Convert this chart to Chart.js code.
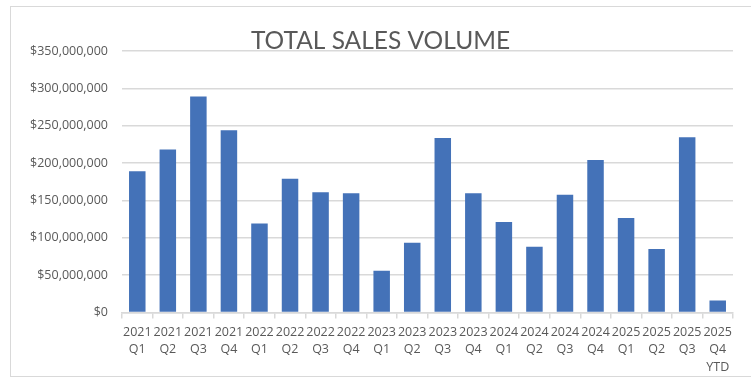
<!DOCTYPE html>
<html>
<head>
<meta charset="utf-8">
<script src="https://cdn.jsdelivr.net/npm/chart.js@4"></script>
<style>
  html, body { margin: 0; padding: 0; background: #fff; overflow: hidden; }
  #wrap { position: relative; width: 751px; height: 383px; }
  #frame { position: absolute; left: 10px; top: 6px; width: 800px; height: 371px; border: 1.5px solid #d9d9d9; box-sizing: border-box; }
  canvas { position: absolute; left: 0; top: 0; }
</style>
</head>
<body>
<div id="wrap">
  <div id="frame"></div>
  <canvas id="c" width="751" height="383"></canvas>
</div>
<script>
const years = ['2021','2021','2021','2021','2022','2022','2022','2022','2023','2023','2023','2023','2024','2024','2024','2024','2025','2025','2025','2025'];
const quarters = ['Q1','Q2','Q3','Q4','Q1','Q2','Q3','Q4','Q1','Q2','Q3','Q4','Q1','Q2','Q3','Q4','Q1','Q2','Q3','Q4'];
const suffixes = ['','','','','','','','','','','','','','','','','','','','YTD'];
const salesVolume = [189000000, 218000000, 289000000, 244000000, 119000000, 179000000, 161000000, 159500000, 56000000, 93500000, 233500000, 159500000, 121000000, 88000000, 157500000, 204000000, 126500000, 85000000, 234500000, 16000000];
const titleText = 'TOTAL SALES VOLUME';

const labels = years.map((y, i) => suffixes[i] ? [y, quarters[i], suffixes[i]] : [y, quarters[i]]);

new Chart(document.getElementById('c'), {
  type: 'bar',
  data: {
    labels: labels,
    datasets: [{
      data: salesVolume,
      backgroundColor: '#4472b8',
      borderWidth: 0,
      barPercentage: 0.54,
      categoryPercentage: 1.0
    }]
  },
  options: {
    responsive: false,
    animation: false,
    devicePixelRatio: 1,
    layout: { padding: { left: 10, right: 0, top: 0, bottom: 2 } },
    plugins: {
      legend: { display: false },
      tooltip: { enabled: false },
      title: {
        display: true,
        text: titleText,
        color: '#595959',
        font: { family: 'Lato', size: 24.5, weight: 'normal', lineHeight: 1 },
        padding: { top: 29, bottom: -2.5 }
      }
    },
    scales: {
      x: {
        afterFit: (s) => { s.paddingRight = 18; },
        grid: { display: true, drawOnChartArea: false, drawTicks: true, tickLength: 6, color: '#d9d9d9', lineWidth: 1.5, offset: true },
        border: { display: true, color: '#d9d9d9', width: 1.5 },
        ticks: { color: '#595959', font: { family: 'Open Sans', size: 12.5, lineHeight: 1.4 }, maxRotation: 0, autoSkip: false, padding: 5 }
      },
      y: {
        min: 0, max: 350000000,
        afterFit: (s) => { s.width = 112; },
        grid: { color: '#d9d9d9', lineWidth: 1.5, drawTicks: false },
        border: { display: false },
        ticks: {
          stepSize: 50000000,
          color: '#595959',
          padding: 14,
          font: { family: 'Open Sans', size: 12.5 },
          callback: (v) => '$' + Number(v).toLocaleString('en-US')
        }
      }
    }
  }
});
</script>
</body>
</html>
